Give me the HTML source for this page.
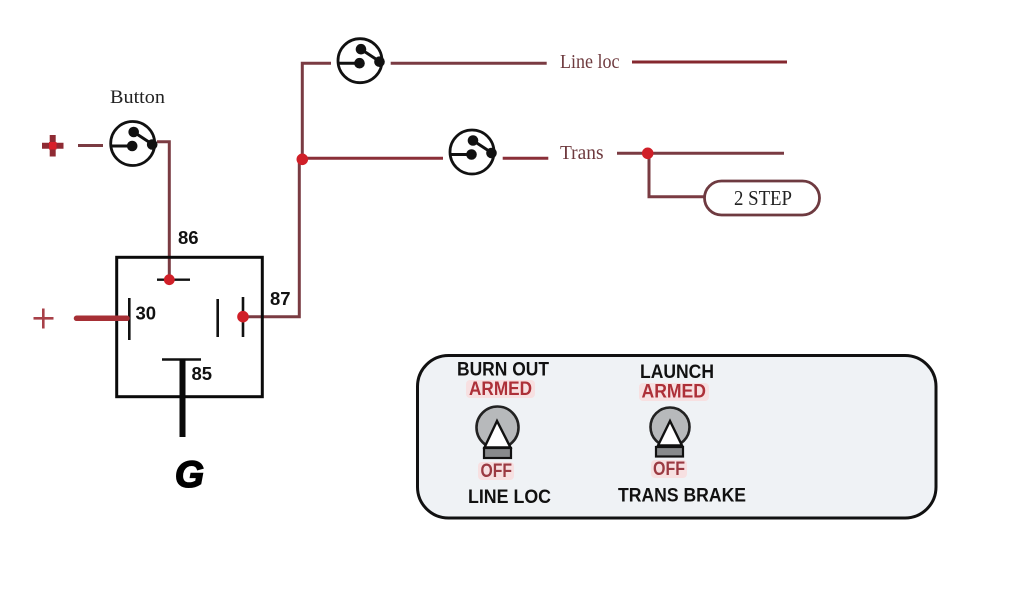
<!DOCTYPE html>
<html><head><meta charset="utf-8"><style>
html,body{margin:0;padding:0;background:#fff;width:1024px;height:600px;overflow:hidden}
svg{display:block}
.s{font-family:"Liberation Serif",serif;fill:#222}
.r{font-family:"Liberation Serif",serif;fill:#6e3a3e}
.b{font-family:"Liberation Sans",sans-serif;font-weight:bold;fill:#111}
.a{font-family:"Liberation Sans",sans-serif;font-weight:bold;fill:#ad3038}
.w{stroke:#7a3b42;fill:none;stroke-width:3}
.g{fill:#fbd9d9;opacity:.7}
</style></head><body>
<svg width="1024" height="600" viewBox="0 0 1024 600" xmlns="http://www.w3.org/2000/svg">
<defs>
<g id="sw">
<circle cx="0" cy="0" r="22" fill="#fff" stroke="#111" stroke-width="2.8"/>
<path d="M-22 2.5H0M1 -11.5L20 1" stroke="#111" stroke-width="3" fill="none"/>
<circle cx="1" cy="-11.5" r="5.3" fill="#111"/>
<circle cx="-0.5" cy="2.5" r="5.3" fill="#111"/>
<circle cx="19.5" cy="1" r="5.3" fill="#111"/>
</g>
</defs>
<!-- wires -->
<path class="w" d="M78 145.5H103"/>
<path class="w" d="M157 141.7H169.3V280"/>
<path class="w" d="M243 316.7H299.3V159"/>
<path class="w" d="M302.3 159V63.3H331"/>
<path class="w" d="M390.7 63.3H546.7"/>
<path class="w" d="M302 158.3H443" style="stroke:#8a2f38"/>
<path class="w" d="M502.7 158.3H548.3" style="stroke:#8a2f38"/>
<path class="w" d="M632 62H787" style="stroke:#85282f"/>
<path class="w" d="M617 153.3H784"/>
<path class="w" d="M649 153.3V196.7H705"/>
<rect x="704.5" y="181" width="115" height="34" rx="17" fill="#fff" stroke="#6e3a40" stroke-width="2.8"/>
<!-- switches -->
<use href="#sw" x="132.7" y="143.5"/>
<use href="#sw" x="360" y="60.7"/>
<use href="#sw" x="472" y="152"/>
<!-- relay -->
<rect x="116.7" y="257.3" width="145.6" height="139.4" fill="none" stroke="#0a0a0a" stroke-width="3"/>
<path d="M157 279.7H190" stroke="#111" stroke-width="2.4"/>
<path d="M129.3 298V340" stroke="#111" stroke-width="2.6"/>
<path d="M217.7 299V337M243 297V337" stroke="#111" stroke-width="2.6"/>
<path d="M162 359.5H201" stroke="#111" stroke-width="2.6"/>
<path d="M182.5 359V437" stroke="#0a0a0a" stroke-width="6"/>
<path d="M76.5 318.3H127" stroke="#a62f35" stroke-width="5.5" stroke-linecap="round"/>
<!-- plus signs -->
<path d="M42 145.7H63.5" stroke="#8f2a33" stroke-width="6"/>
<path d="M52.7 135V156.5" stroke="#8f2a33" stroke-width="6"/>
<rect x="49" y="142" width="7.5" height="7.5" fill="#d8202a"/>
<path d="M33.5 318.3H53.5M43.3 308.5V328.5" stroke="#a84048" stroke-width="2.6"/>
<!-- dots -->
<g fill="#d01f28">
<circle cx="169.3" cy="279.7" r="5.4"/>
<circle cx="243" cy="316.7" r="5.8"/>
<circle cx="302.3" cy="159.3" r="5.8"/>
<circle cx="647.7" cy="153.3" r="5.8"/>
</g>
<!-- labels -->
<text class="s" x="110" y="103" font-size="19" textLength="55" lengthAdjust="spacingAndGlyphs">Button</text>
<text class="r" x="560" y="68" font-size="19.5" textLength="59.5" lengthAdjust="spacingAndGlyphs">Line loc</text>
<text class="r" x="560" y="159" font-size="19.5" textLength="43.5" lengthAdjust="spacingAndGlyphs">Trans</text>
<text class="s" x="734" y="205" font-size="21" textLength="58" lengthAdjust="spacingAndGlyphs">2 STEP</text>
<text class="b" x="178" y="244" font-size="18.5">86</text>
<text class="b" x="135.5" y="319.5" font-size="18.5">30</text>
<text class="b" x="270" y="305" font-size="18.5">87</text>
<text class="b" x="191.5" y="380" font-size="18.5">85</text>
<text x="175" y="487" font-family="Liberation Sans,sans-serif" font-weight="bold" font-style="italic" font-size="37" fill="#000" stroke="#000" stroke-width="1.6" textLength="29" lengthAdjust="spacingAndGlyphs">G</text>
<!-- panel -->
<rect x="417.5" y="355.5" width="518.5" height="162.5" rx="31" fill="#eff2f5" stroke="#111" stroke-width="3"/>
<!-- glows -->
<rect class="g" x="466" y="380" width="69" height="18" rx="4"/>
<rect class="g" x="478" y="462" width="36" height="18" rx="4"/>
<rect class="g" x="639" y="383" width="70" height="18" rx="4"/>
<rect class="g" x="651" y="460" width="36" height="18" rx="4"/>
<text class="b" x="457" y="375.7" font-size="19" textLength="92" lengthAdjust="spacingAndGlyphs">BURN OUT</text>
<text class="a" x="469" y="395" font-size="19" textLength="63" lengthAdjust="spacingAndGlyphs">ARMED</text>
<text class="a" x="480.5" y="477" font-size="19" textLength="31.5" lengthAdjust="spacingAndGlyphs" style="fill:#9b3a42">OFF</text>
<text class="b" x="468" y="503" font-size="19" textLength="83" lengthAdjust="spacingAndGlyphs">LINE LOC</text>
<text class="b" x="640" y="378" font-size="19" textLength="74" lengthAdjust="spacingAndGlyphs">LAUNCH</text>
<text class="a" x="641.5" y="397.7" font-size="19" textLength="64.5" lengthAdjust="spacingAndGlyphs">ARMED</text>
<text class="a" x="653" y="475" font-size="19" textLength="32" lengthAdjust="spacingAndGlyphs" style="fill:#9b3a42">OFF</text>
<text class="b" x="618" y="501.7" font-size="19" textLength="128" lengthAdjust="spacingAndGlyphs">TRANS BRAKE</text>
<!-- toggles -->
<circle cx="497.5" cy="427.5" r="21" fill="#b7b9bb" stroke="#222" stroke-width="2.6"/>
<path d="M497 421L484.5 447.5H510.5Z" fill="#fff" stroke="#111" stroke-width="2.4"/>
<rect x="484" y="448" width="27" height="10" fill="#888a8c" stroke="#111" stroke-width="2.2"/>
<circle cx="670" cy="427" r="19.5" fill="#b7b9bb" stroke="#222" stroke-width="2.6"/>
<path d="M670 421L658 445.5H682Z" fill="#fff" stroke="#111" stroke-width="2.4"/>
<rect x="656" y="447" width="27" height="9.5" fill="#888a8c" stroke="#111" stroke-width="2.2"/>
</svg>
</body></html>
